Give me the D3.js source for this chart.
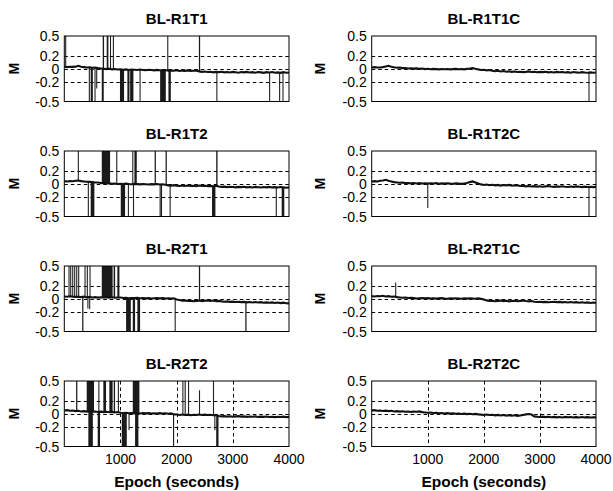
<!DOCTYPE html>
<html><head><meta charset="utf-8">
<script src="https://cdn.jsdelivr.net/npm/d3@7/dist/d3.min.js"></script>
<style>body{margin:0;background:#fff}svg{display:block}text{font-family:Arial,"Liberation Sans",sans-serif;fill:#000}</style>
</head><body><svg id="c" width="613" height="491"></svg>
<script>
// ---------- data ----------
const panelNames = ["BL-R1T1","BL-R1T1C","BL-R1T2","BL-R1T2C","BL-R2T1","BL-R2T1C","BL-R2T2","BL-R2T2C"];
const epochStep = 50; // seconds between baseline samples (0..4000)
const yTicks = [-0.5,-0.2,0,0.2,0.5];
const yTickLabels = ["-0.5","-0.2","0","0.2","0.5"];
const xTicks = [1000,2000,3000,4000];
const xTickLabels = ["1000","2000","3000","4000"];

const baseR1T1 = [0.03,0.025,0.03,0.028,0.032,0.045,0.03,0.025,0.02,0.022,
 0.015,0.018,0.01,0.005,0.0,-0.005,0.002,-0.01,-0.005,-0.012,
 -0.008,-0.015,-0.01,-0.018,-0.012,-0.015,-0.02,-0.012,-0.018,-0.022,
 -0.015,-0.02,-0.025,-0.018,-0.022,-0.028,-0.02,-0.03,-0.025,-0.03,
 -0.022,-0.035,-0.028,-0.032,-0.025,-0.035,-0.03,-0.028,-0.04,-0.048,
 -0.042,-0.05,-0.045,-0.055,-0.048,-0.052,-0.045,-0.055,-0.05,-0.058,
 -0.048,-0.053,-0.06,-0.05,-0.055,-0.048,-0.058,-0.052,-0.06,-0.05,
 -0.055,-0.062,-0.052,-0.058,-0.05,-0.06,-0.055,-0.062,-0.052,-0.06,-0.058];
const baseR1T1C = [0.02,0.025,0.02,0.018,0.025,0.035,0.045,0.03,0.022,0.015,
 0.018,0.01,0.012,0.005,0.008,0.002,0.006,-0.002,0.004,-0.005,
 0.0,-0.008,-0.002,-0.006,-0.01,-0.004,-0.008,-0.003,-0.01,-0.006,
 -0.002,-0.008,-0.004,-0.01,-0.002,0.004,0.012,0.0,-0.01,-0.018,
 -0.015,-0.025,-0.02,-0.03,-0.038,-0.03,-0.042,-0.035,-0.045,-0.04,
 -0.048,-0.042,-0.05,-0.045,-0.052,-0.048,-0.04,-0.05,-0.046,-0.054,
 -0.048,-0.052,-0.045,-0.055,-0.05,-0.058,-0.048,-0.054,-0.05,-0.058,
 -0.052,-0.06,-0.05,-0.056,-0.06,-0.052,-0.058,-0.062,-0.055,-0.06,-0.058];
const baseR1T2 = [0.04,0.035,0.04,0.038,0.045,0.05,0.04,0.035,0.03,0.028,
 0.025,0.02,0.018,0.012,0.01,0.005,0.008,0.0,0.004,-0.004,
 0.0,-0.006,0.002,-0.004,-0.008,-0.002,-0.006,-0.01,-0.004,-0.008,
 -0.012,-0.006,-0.01,-0.005,-0.012,-0.008,-0.015,-0.025,-0.03,-0.022,
 -0.03,-0.035,-0.028,-0.033,-0.026,-0.035,-0.03,-0.038,-0.028,-0.034,
 -0.03,-0.036,-0.032,-0.038,-0.03,-0.042,-0.048,-0.044,-0.052,-0.046,
 -0.05,-0.055,-0.048,-0.052,-0.045,-0.055,-0.05,-0.056,-0.048,-0.053,
 -0.058,-0.05,-0.055,-0.048,-0.056,-0.052,-0.058,-0.05,-0.055,-0.06,-0.056];
const baseR1T2C = [0.035,0.04,0.035,0.045,0.05,0.06,0.045,0.035,0.025,0.02,
 0.015,0.018,0.01,0.012,0.008,0.012,0.005,0.01,0.004,0.008,
 0.002,0.008,0.004,0.01,0.0,0.006,0.002,0.008,0.003,0.0,
 0.006,0.002,-0.002,0.004,0.01,0.025,0.035,0.02,0.005,-0.01,
 -0.018,-0.012,-0.022,-0.015,-0.025,-0.018,-0.028,-0.02,-0.025,-0.018,
 -0.03,-0.022,-0.028,-0.035,-0.03,-0.04,-0.035,-0.042,-0.036,-0.044,
 -0.038,-0.045,-0.04,-0.035,-0.042,-0.048,-0.04,-0.046,-0.038,-0.045,
 -0.05,-0.042,-0.048,-0.04,-0.046,-0.052,-0.044,-0.05,-0.046,-0.052,-0.048];
const baseR2T1 = [0.035,0.03,0.038,0.032,0.028,0.03,0.025,0.032,0.022,0.028,
 0.02,0.024,0.018,0.022,0.02,0.025,0.018,0.022,0.015,0.02,
 0.018,0.012,0.015,0.008,0.012,0.01,0.014,0.008,0.012,0.006,
 0.01,0.004,0.008,0.012,0.006,0.01,0.004,0.008,0.002,0.006,
 -0.01,-0.02,-0.03,-0.025,-0.035,-0.03,-0.038,-0.032,-0.028,-0.036,
 -0.03,-0.025,-0.034,-0.028,-0.036,-0.032,-0.04,-0.045,-0.04,-0.048,
 -0.044,-0.05,-0.046,-0.052,-0.048,-0.055,-0.05,-0.056,-0.05,-0.058,
 -0.052,-0.06,-0.055,-0.062,-0.056,-0.065,-0.058,-0.066,-0.06,-0.068,-0.07];
const baseR2T1C = [0.04,0.035,0.042,0.038,0.045,0.035,0.04,0.03,0.035,0.025,
 0.02,0.015,0.02,0.012,0.016,0.01,0.004,0.008,0.012,0.006,
 0.01,0.004,0.008,0.002,0.006,0.01,0.004,0.0,0.006,0.002,
 0.008,0.004,0.0,0.006,0.002,0.008,0.004,0.0,0.006,-0.002,
 -0.01,-0.025,-0.035,-0.03,-0.038,-0.032,-0.028,-0.036,-0.03,-0.04,
 -0.034,-0.03,-0.038,-0.032,-0.028,-0.035,-0.04,-0.034,-0.045,-0.05,
 -0.046,-0.052,-0.048,-0.054,-0.05,-0.046,-0.052,-0.048,-0.055,-0.05,
 -0.056,-0.05,-0.058,-0.052,-0.06,-0.054,-0.062,-0.056,-0.064,-0.058,-0.062];
const baseR2T2 = [0.05,0.055,0.045,0.05,0.04,0.045,0.035,0.04,0.032,0.038,
 0.03,0.034,0.028,0.032,0.025,0.03,0.024,0.028,0.02,0.026,
 0.015,0.01,0.014,0.008,0.012,0.006,0.01,0.004,0.012,0.006,
 0.01,0.004,0.008,0.002,0.01,0.004,0.008,0.0,0.006,-0.01,
 -0.012,-0.018,-0.012,-0.02,-0.014,-0.022,-0.015,-0.02,-0.012,-0.018,
 -0.014,-0.02,-0.015,-0.022,-0.018,-0.035,-0.04,-0.036,-0.044,-0.038,
 -0.045,-0.04,-0.036,-0.044,-0.04,-0.048,-0.042,-0.046,-0.04,-0.05,
 -0.044,-0.048,-0.042,-0.05,-0.045,-0.052,-0.046,-0.05,-0.044,-0.052,-0.05];
const baseR2T2C = [0.05,0.055,0.045,0.05,0.042,0.048,0.04,0.045,0.035,0.04,
 0.032,0.038,0.03,0.035,0.028,0.032,0.03,0.036,0.025,0.02,
 0.015,0.02,0.012,0.016,0.008,0.012,0.004,0.01,0.002,0.006,
 0.0,0.004,-0.004,0.002,-0.006,0.0,-0.008,-0.002,-0.01,-0.014,
 -0.018,-0.012,-0.02,-0.016,-0.024,-0.018,-0.026,-0.02,-0.028,-0.022,
 -0.03,-0.024,-0.032,-0.026,-0.02,-0.01,-0.005,-0.012,-0.04,-0.045,
 -0.05,-0.044,-0.052,-0.046,-0.054,-0.048,-0.055,-0.05,-0.056,-0.048,
 -0.054,-0.05,-0.056,-0.052,-0.058,-0.05,-0.056,-0.052,-0.058,-0.054,-0.056];

// single excursions: [epoch, M]
const spikesR1T1 = [[25,0.5],[446,-0.5],[547,-0.5],[577,-0.3],[874,0.5],[1349,-0.5],[1842,0.5],[2716,-0.5],[3655,-0.5],[3833,-0.5],[3893,-0.5]];
const spikesR1T1C = [[3875,-0.5]];
const spikesR1T2 = [[250,0.5],[428,-0.5],[934,0.5],[1141,-0.5],[1219,0.5],[1232,-0.5],[1706,-0.5],[1884,-0.5],[3774,-0.5]];
const spikesR1T2C = [[1000,-0.37],[3875,-0.5]];
const spikesR2T1 = [[84,0.5],[114,0.5],[150,0.5],[185,0.5],[221,0.5],[256,0.5],[369,0.5],[410,0.5],[458,0.5],[420,-0.15],[452,-0.16],[1974,-0.5]];
const spikesR2T1C = [[428,0.25]];
const spikesR2T2 = [[615,0.5],[963,0.5],[1070,-0.4],[1153,-0.25],[2111,0.5],[2212,0.5],[2407,0.36],[2656,0.5],[2680,-0.25]];
const spikesR2T2C = [];

// dense bursts: [start epoch, end epoch, M]
const burstsR1T1 = [[470,508,-0.5],[667,702,-0.5],[684,708,0.5],[755,785,0.5],[814,832,0.5],[991,1064,-0.5],[1123,1160,-0.5],[1172,1230,-0.5],[1706,1807,-0.5],[1854,1896,-0.5],[2396,2418,0.5]];
const burstsR1T1C = [];
const burstsR1T2 = [[470,535,-0.5],[667,815,0.5],[1005,1082,-0.5],[1248,1290,0.5],[1608,1630,0.5],[1718,1740,-0.5],[1803,1825,0.5],[2630,2690,-0.5],[2704,2728,0.5],[3870,3916,-0.5]];
const burstsR1T2C = [];
const burstsR2T1 = [[318,340,-0.5],[667,860,0.5],[878,905,0.5],[945,981,0.5],[1100,1184,-0.5],[1219,1260,-0.5],[1301,1349,-0.5],[2396,2418,0.5],[3222,3244,-0.5]];
const burstsR2T1C = [];
const burstsR2T2 = [[210,232,0.5],[399,529,0.5],[428,508,-0.5],[595,636,-0.5],[695,743,0.5],[802,860,0.5],[880,904,0.5],[1023,1112,-0.5],[1219,1337,0.5],[1260,1319,-0.5],[1935,1955,-0.5],[2142,2162,0.5],[2704,2745,-0.5]];
const burstsR2T2C = [];

const baselines = [baseR1T1,baseR1T1C,baseR1T2,baseR1T2C,baseR2T1,baseR2T1C,baseR2T2,baseR2T2C];
const spikes = [spikesR1T1,spikesR1T1C,spikesR1T2,spikesR1T2C,spikesR2T1,spikesR2T1C,spikesR2T2,spikesR2T2C];
const bursts = [burstsR1T1,burstsR1T1C,burstsR1T2,burstsR1T2C,burstsR2T1,burstsR2T1C,burstsR2T2,burstsR2T2C];

// ---------- layout ----------
const svg = d3.select("#c");
const colX = [[64.3,289],[371.7,596]];
const rowTop = [36,151,266,381];
const plotH = 65.5;

panelNames.forEach((name,i)=>{
  const col = i%2, row = Math.floor(i/2);
  const [xl,xr] = colX[col];
  const top = rowTop[row], bot = top+plotH;
  const x = d3.scaleLinear().domain([0,4000]).range([xl,xr]);
  const y = d3.scaleLinear().domain([-0.5,0.5]).range([bot,top]);
  const g = svg.append("g");
  const clipId = "clip"+i;
  g.append("clipPath").attr("id",clipId).append("rect")
    .attr("x",xl).attr("y",top).attr("width",xr-xl).attr("height",plotH);

  // grid
  const grid = g.append("g").attr("stroke","#000").attr("stroke-width",1).attr("stroke-dasharray","3.5,3");
  yTicks.filter(v=>Math.abs(v)<0.5).forEach(v=>{
    grid.append("line").attr("x1",xl).attr("x2",xr).attr("y1",Math.round(y(v))+0.5).attr("y2",Math.round(y(v))+0.5);
  });
  if(row===3){
    xTicks.filter(v=>v<4000).forEach(v=>{
      grid.append("line").attr("x1",Math.round(x(v))+0.5).attr("x2",Math.round(x(v))+0.5).attr("y1",top).attr("y2",bot);
    });
  }

  const base = baselines[i];
  const pts = base.map((v,k)=>({t:k*epochStep,v}));
  const baseAt = t => { const f=t/epochStep, k=Math.min(Math.floor(f),base.length-2); return base[k]+(base[k+1]-base[k])*(f-k); };

  const data = g.append("g").attr("clip-path",`url(#${clipId})`);
  data.selectAll("rect.burst").data(bursts[i]).join("rect").attr("class","burst")
    .attr("x",d=>x(d[0])).attr("width",d=>Math.max(1,x(d[1])-x(d[0])))
    .attr("y",d=>y(Math.max(d[2],baseAt((d[0]+d[1])/2))))
    .attr("height",d=>Math.abs(y(d[2])-y(baseAt((d[0]+d[1])/2))))
    .attr("fill","#1a1a1a");
  data.selectAll("line.spike").data(spikes[i]).join("line").attr("class","spike")
    .attr("x1",d=>x(d[0])).attr("x2",d=>x(d[0]))
    .attr("y1",d=>y(baseAt(d[0]))).attr("y2",d=>y(d[1]))
    .attr("stroke","#222").attr("stroke-width",1.1);
  data.append("path").datum(pts)
    .attr("d",d3.line().x(d=>x(d.t)).y(d=>y(d.v)))
    .attr("fill","none").attr("stroke","#111").attr("stroke-width",2.1).attr("stroke-linejoin","miter");

  // box
  g.append("rect").attr("x",xl).attr("y",top).attr("width",xr-xl).attr("height",plotH)
    .attr("fill","none").attr("stroke","#000").attr("stroke-width",1);

  // y tick labels
  g.selectAll("text.yt").data(yTicks).join("text").attr("class","yt")
    .attr("x",xl-5).attr("y",d=>y(d)).attr("dy","0.36em")
    .attr("text-anchor","end").attr("font-size",14)
    .text((d,k)=>yTickLabels[k]);

  // x tick labels (bottom row)
  if(row===3){
    g.selectAll("text.xt").data(xTicks).join("text").attr("class","xt")
      .attr("x",d=>x(d)).attr("y",bot+17).attr("text-anchor","middle").attr("font-size",14)
      .text((d,k)=>xTickLabels[k]);
    g.append("text").attr("x",(xl+xr)/2).attr("y",487).attr("text-anchor","middle")
      .attr("font-size",15.5).attr("font-weight","bold").text("Epoch (seconds)");
  }

  // title
  g.append("text").attr("x",(xl+xr)/2).attr("y",top-12).attr("text-anchor","middle")
    .attr("font-size",15).attr("font-weight","bold").text(name);

  // y label
  g.append("text").attr("transform",`translate(${col===0?19:325},${(top+bot)/2}) rotate(-90)`)
    .attr("text-anchor","middle").attr("font-size",14).attr("font-weight","bold").text("M");
});
</script></body></html>
